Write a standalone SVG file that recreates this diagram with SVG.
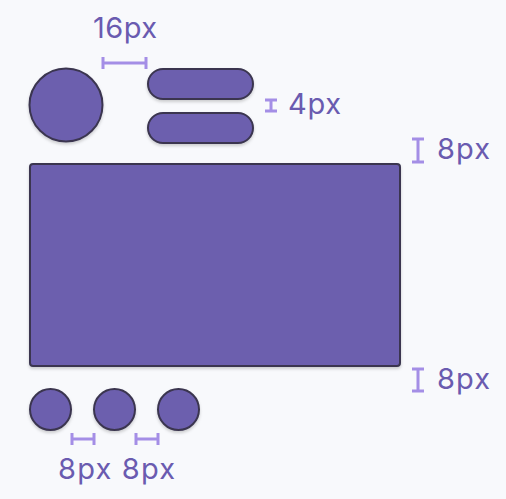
<svg xmlns="http://www.w3.org/2000/svg" width="506" height="499" viewBox="0 0 506 499">
<defs>
<filter id="sh" x="-20%" y="-20%" width="140%" height="150%">
<feDropShadow dx="0" dy="2" stdDeviation="1.5" flood-color="#000" flood-opacity="0.18"/>
</filter>
</defs>
<style>
.s{fill:#6c5fae;stroke:#3b3650;stroke-width:2;filter:url(#sh)}
.b{fill:none;stroke:#a48ee6;stroke-width:3}
.t{font-family:Inter,"Noto Sans",sans-serif;font-size:29px;fill:#6a5bb0}
</style>
<rect width="506" height="499" fill="#f8f9fc"/>
<g id="avatar"><circle class="s" cx="66" cy="105" r="36.5"/></g>
<g id="line1"><rect class="s" x="148" y="69" width="105" height="30" rx="15"/></g>
<g id="line2"><rect class="s" x="148" y="113" width="105" height="30" rx="15"/></g>
<g id="card"><rect class="s" x="30" y="164" width="370" height="202" rx="3"/></g>
<g id="dot1"><circle class="s" cx="50.5" cy="409.5" r="20.5"/></g>
<g id="dot2"><circle class="s" cx="114.5" cy="409.5" r="20.5"/></g>
<g id="dot3"><circle class="s" cx="178.5" cy="409.5" r="20.5"/></g>
<g id="connectors">
<path class="b" d="M103,57V69M103,63H146M146,57V69"/>
<path class="b" d="M265,100H277M271,100V111M265,111H277"/>
<path class="b" d="M412,139H424M418,139V162M412,162H424"/>
<path class="b" d="M412,369H424M418,369V391M412,391H424"/>
<path class="b" d="M72,433V445M72,439H94M94,433V445"/>
<path class="b" d="M136,433V445M136,439H158M158,433V445"/>
</g>
<g id="labels">
<text class="t" x="93" y="38" textLength="64">16px</text>
<text class="t" x="288" y="114" textLength="53">4px</text>
<text class="t" x="437" y="159" textLength="53">8px</text>
<text class="t" x="437" y="389" textLength="53">8px</text>
<text class="t" x="58" y="479" textLength="117">8px 8px</text>
</g>
</svg>
